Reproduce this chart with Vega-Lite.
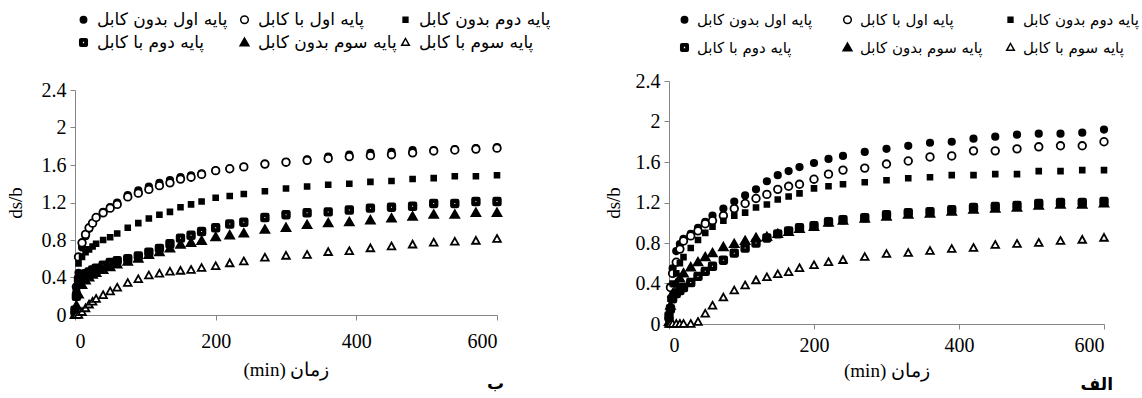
{
  "$schema": "https://vega.github.io/schema/vega-lite/v6.json",
  "background": "white",
  "padding": {"left": 6, "top": 11, "right": 0, "bottom": 0},
  "datasets": {
    "names": [
      {"k": "A", "name": "پایه اول بدون کابل"},
      {"k": "B", "name": "پایه اول با کابل"},
      {"k": "C", "name": "پایه دوم بدون کابل"},
      {"k": "D", "name": "پایه دوم با کابل"},
      {"k": "E", "name": "پایه سوم بدون کابل"},
      {"k": "F", "name": "پایه سوم با کابل"}
    ],
    "left": [
      {"k":"A","t":0,"v":0.05},{"k":"A","t":2,"v":0.25},{"k":"A","t":5,"v":0.45},{"k":"A","t":10,"v":0.72},{"k":"A","t":15,"v":0.84},{"k":"A","t":20,"v":0.92},{"k":"A","t":25,"v":0.98},{"k":"A","t":30,"v":1.04},{"k":"A","t":40,"v":1.10},{"k":"A","t":50,"v":1.15},{"k":"A","t":60,"v":1.20},{"k":"A","t":75,"v":1.28},{"k":"A","t":90,"v":1.33},{"k":"A","t":105,"v":1.37},{"k":"A","t":120,"v":1.41},{"k":"A","t":135,"v":1.44},{"k":"A","t":150,"v":1.47},{"k":"A","t":165,"v":1.49},{"k":"A","t":180,"v":1.51},{"k":"A","t":200,"v":1.54},{"k":"A","t":220,"v":1.56},{"k":"A","t":240,"v":1.58},{"k":"A","t":270,"v":1.61},{"k":"A","t":300,"v":1.63},{"k":"A","t":330,"v":1.66},{"k":"A","t":360,"v":1.69},{"k":"A","t":390,"v":1.71},{"k":"A","t":420,"v":1.73},{"k":"A","t":450,"v":1.74},{"k":"A","t":480,"v":1.76},{"k":"A","t":510,"v":1.76},{"k":"A","t":540,"v":1.77},{"k":"A","t":570,"v":1.78},{"k":"A","t":600,"v":1.79},
      {"k":"B","t":0,"v":0.02},{"k":"B","t":2,"v":0.30},{"k":"B","t":5,"v":0.62},{"k":"B","t":10,"v":0.77},{"k":"B","t":15,"v":0.86},{"k":"B","t":20,"v":0.93},{"k":"B","t":25,"v":0.98},{"k":"B","t":30,"v":1.04},{"k":"B","t":40,"v":1.09},{"k":"B","t":50,"v":1.14},{"k":"B","t":60,"v":1.18},{"k":"B","t":75,"v":1.26},{"k":"B","t":90,"v":1.30},{"k":"B","t":105,"v":1.34},{"k":"B","t":120,"v":1.38},{"k":"B","t":135,"v":1.41},{"k":"B","t":150,"v":1.45},{"k":"B","t":165,"v":1.47},{"k":"B","t":180,"v":1.50},{"k":"B","t":200,"v":1.54},{"k":"B","t":220,"v":1.56},{"k":"B","t":240,"v":1.58},{"k":"B","t":270,"v":1.61},{"k":"B","t":300,"v":1.63},{"k":"B","t":330,"v":1.65},{"k":"B","t":360,"v":1.67},{"k":"B","t":390,"v":1.69},{"k":"B","t":420,"v":1.70},{"k":"B","t":450,"v":1.71},{"k":"B","t":480,"v":1.73},{"k":"B","t":510,"v":1.75},{"k":"B","t":540,"v":1.76},{"k":"B","t":570,"v":1.77},{"k":"B","t":600,"v":1.78},
      {"k":"C","t":0,"v":0.05},{"k":"C","t":2,"v":0.30},{"k":"C","t":5,"v":0.55},{"k":"C","t":10,"v":0.62},{"k":"C","t":15,"v":0.67},{"k":"C","t":20,"v":0.70},{"k":"C","t":25,"v":0.73},{"k":"C","t":30,"v":0.76},{"k":"C","t":40,"v":0.80},{"k":"C","t":50,"v":0.83},{"k":"C","t":60,"v":0.87},{"k":"C","t":75,"v":0.93},{"k":"C","t":90,"v":0.98},{"k":"C","t":105,"v":1.03},{"k":"C","t":120,"v":1.07},{"k":"C","t":135,"v":1.10},{"k":"C","t":150,"v":1.15},{"k":"C","t":165,"v":1.18},{"k":"C","t":180,"v":1.21},{"k":"C","t":200,"v":1.25},{"k":"C","t":220,"v":1.27},{"k":"C","t":240,"v":1.29},{"k":"C","t":270,"v":1.32},{"k":"C","t":300,"v":1.35},{"k":"C","t":330,"v":1.37},{"k":"C","t":360,"v":1.39},{"k":"C","t":390,"v":1.40},{"k":"C","t":420,"v":1.42},{"k":"C","t":450,"v":1.43},{"k":"C","t":480,"v":1.45},{"k":"C","t":510,"v":1.46},{"k":"C","t":540,"v":1.48},{"k":"C","t":570,"v":1.48},{"k":"C","t":600,"v":1.49},
      {"k":"D","t":0,"v":0.05},{"k":"D","t":2,"v":0.20},{"k":"D","t":5,"v":0.38},{"k":"D","t":10,"v":0.42},{"k":"D","t":15,"v":0.44},{"k":"D","t":20,"v":0.46},{"k":"D","t":25,"v":0.48},{"k":"D","t":30,"v":0.50},{"k":"D","t":40,"v":0.53},{"k":"D","t":50,"v":0.56},{"k":"D","t":60,"v":0.58},{"k":"D","t":75,"v":0.60},{"k":"D","t":90,"v":0.63},{"k":"D","t":105,"v":0.67},{"k":"D","t":120,"v":0.71},{"k":"D","t":135,"v":0.76},{"k":"D","t":150,"v":0.82},{"k":"D","t":165,"v":0.85},{"k":"D","t":180,"v":0.89},{"k":"D","t":200,"v":0.93},{"k":"D","t":220,"v":0.97},{"k":"D","t":240,"v":0.99},{"k":"D","t":270,"v":1.04},{"k":"D","t":300,"v":1.07},{"k":"D","t":330,"v":1.09},{"k":"D","t":360,"v":1.10},{"k":"D","t":390,"v":1.12},{"k":"D","t":420,"v":1.14},{"k":"D","t":450,"v":1.15},{"k":"D","t":480,"v":1.16},{"k":"D","t":510,"v":1.19},{"k":"D","t":540,"v":1.19},{"k":"D","t":570,"v":1.21},{"k":"D","t":600,"v":1.21},
      {"k":"E","t":0,"v":0.00},{"k":"E","t":2,"v":0.10},{"k":"E","t":5,"v":0.22},{"k":"E","t":10,"v":0.32},{"k":"E","t":15,"v":0.37},{"k":"E","t":20,"v":0.40},{"k":"E","t":25,"v":0.43},{"k":"E","t":30,"v":0.45},{"k":"E","t":40,"v":0.48},{"k":"E","t":50,"v":0.51},{"k":"E","t":60,"v":0.54},{"k":"E","t":75,"v":0.57},{"k":"E","t":90,"v":0.60},{"k":"E","t":105,"v":0.64},{"k":"E","t":120,"v":0.67},{"k":"E","t":135,"v":0.71},{"k":"E","t":150,"v":0.75},{"k":"E","t":165,"v":0.77},{"k":"E","t":180,"v":0.79},{"k":"E","t":200,"v":0.83},{"k":"E","t":220,"v":0.85},{"k":"E","t":240,"v":0.87},{"k":"E","t":270,"v":0.91},{"k":"E","t":300,"v":0.93},{"k":"E","t":330,"v":0.96},{"k":"E","t":360,"v":0.98},{"k":"E","t":390,"v":0.99},{"k":"E","t":420,"v":1.01},{"k":"E","t":450,"v":1.03},{"k":"E","t":480,"v":1.05},{"k":"E","t":510,"v":1.07},{"k":"E","t":540,"v":1.07},{"k":"E","t":570,"v":1.09},{"k":"E","t":600,"v":1.09},
      {"k":"F","t":0,"v":0.00},{"k":"F","t":2,"v":0.00},{"k":"F","t":5,"v":0.00},{"k":"F","t":10,"v":0.03},{"k":"F","t":15,"v":0.07},{"k":"F","t":20,"v":0.11},{"k":"F","t":25,"v":0.14},{"k":"F","t":30,"v":0.17},{"k":"F","t":40,"v":0.21},{"k":"F","t":50,"v":0.25},{"k":"F","t":60,"v":0.29},{"k":"F","t":75,"v":0.34},{"k":"F","t":90,"v":0.38},{"k":"F","t":105,"v":0.42},{"k":"F","t":120,"v":0.44},{"k":"F","t":135,"v":0.46},{"k":"F","t":150,"v":0.47},{"k":"F","t":165,"v":0.48},{"k":"F","t":180,"v":0.50},{"k":"F","t":200,"v":0.52},{"k":"F","t":220,"v":0.55},{"k":"F","t":240,"v":0.57},{"k":"F","t":270,"v":0.61},{"k":"F","t":300,"v":0.63},{"k":"F","t":330,"v":0.64},{"k":"F","t":360,"v":0.67},{"k":"F","t":390,"v":0.68},{"k":"F","t":420,"v":0.71},{"k":"F","t":450,"v":0.73},{"k":"F","t":480,"v":0.75},{"k":"F","t":510,"v":0.77},{"k":"F","t":540,"v":0.78},{"k":"F","t":570,"v":0.79},{"k":"F","t":600,"v":0.81}
    ],
    "right": [
      {"k":"A","t":0,"v":0.07},{"k":"A","t":2,"v":0.37},{"k":"A","t":5,"v":0.55},{"k":"A","t":10,"v":0.72},{"k":"A","t":15,"v":0.79},{"k":"A","t":20,"v":0.84},{"k":"A","t":30,"v":0.89},{"k":"A","t":40,"v":0.95},{"k":"A","t":50,"v":1.01},{"k":"A","t":60,"v":1.07},{"k":"A","t":75,"v":1.14},{"k":"A","t":90,"v":1.21},{"k":"A","t":105,"v":1.27},{"k":"A","t":120,"v":1.33},{"k":"A","t":135,"v":1.41},{"k":"A","t":150,"v":1.47},{"k":"A","t":165,"v":1.51},{"k":"A","t":180,"v":1.55},{"k":"A","t":200,"v":1.59},{"k":"A","t":220,"v":1.63},{"k":"A","t":240,"v":1.66},{"k":"A","t":270,"v":1.70},{"k":"A","t":300,"v":1.73},{"k":"A","t":330,"v":1.76},{"k":"A","t":360,"v":1.79},{"k":"A","t":390,"v":1.80},{"k":"A","t":420,"v":1.83},{"k":"A","t":450,"v":1.85},{"k":"A","t":480,"v":1.87},{"k":"A","t":510,"v":1.88},{"k":"A","t":540,"v":1.88},{"k":"A","t":570,"v":1.89},{"k":"A","t":600,"v":1.92},
      {"k":"B","t":0,"v":0.05},{"k":"B","t":2,"v":0.36},{"k":"B","t":5,"v":0.50},{"k":"B","t":10,"v":0.61},{"k":"B","t":15,"v":0.74},{"k":"B","t":20,"v":0.82},{"k":"B","t":30,"v":0.87},{"k":"B","t":40,"v":0.92},{"k":"B","t":50,"v":0.99},{"k":"B","t":60,"v":1.02},{"k":"B","t":75,"v":1.07},{"k":"B","t":90,"v":1.14},{"k":"B","t":105,"v":1.19},{"k":"B","t":120,"v":1.24},{"k":"B","t":135,"v":1.28},{"k":"B","t":150,"v":1.33},{"k":"B","t":165,"v":1.36},{"k":"B","t":180,"v":1.38},{"k":"B","t":200,"v":1.43},{"k":"B","t":220,"v":1.48},{"k":"B","t":240,"v":1.52},{"k":"B","t":270,"v":1.54},{"k":"B","t":300,"v":1.58},{"k":"B","t":330,"v":1.61},{"k":"B","t":360,"v":1.65},{"k":"B","t":390,"v":1.66},{"k":"B","t":420,"v":1.71},{"k":"B","t":450,"v":1.71},{"k":"B","t":480,"v":1.73},{"k":"B","t":510,"v":1.75},{"k":"B","t":540,"v":1.76},{"k":"B","t":570,"v":1.76},{"k":"B","t":600,"v":1.80},
      {"k":"C","t":0,"v":0.05},{"k":"C","t":2,"v":0.25},{"k":"C","t":5,"v":0.40},{"k":"C","t":10,"v":0.50},{"k":"C","t":15,"v":0.60},{"k":"C","t":20,"v":0.66},{"k":"C","t":30,"v":0.75},{"k":"C","t":40,"v":0.83},{"k":"C","t":50,"v":0.90},{"k":"C","t":60,"v":0.96},{"k":"C","t":75,"v":1.02},{"k":"C","t":90,"v":1.07},{"k":"C","t":105,"v":1.10},{"k":"C","t":120,"v":1.15},{"k":"C","t":135,"v":1.18},{"k":"C","t":150,"v":1.23},{"k":"C","t":165,"v":1.26},{"k":"C","t":180,"v":1.29},{"k":"C","t":200,"v":1.34},{"k":"C","t":220,"v":1.36},{"k":"C","t":240,"v":1.38},{"k":"C","t":270,"v":1.40},{"k":"C","t":300,"v":1.42},{"k":"C","t":330,"v":1.44},{"k":"C","t":360,"v":1.45},{"k":"C","t":390,"v":1.47},{"k":"C","t":420,"v":1.47},{"k":"C","t":450,"v":1.48},{"k":"C","t":480,"v":1.48},{"k":"C","t":510,"v":1.51},{"k":"C","t":540,"v":1.51},{"k":"C","t":570,"v":1.52},{"k":"C","t":600,"v":1.52},
      {"k":"D","t":0,"v":0.08},{"k":"D","t":2,"v":0.15},{"k":"D","t":5,"v":0.25},{"k":"D","t":10,"v":0.30},{"k":"D","t":15,"v":0.33},{"k":"D","t":20,"v":0.36},{"k":"D","t":30,"v":0.41},{"k":"D","t":40,"v":0.47},{"k":"D","t":50,"v":0.52},{"k":"D","t":60,"v":0.57},{"k":"D","t":75,"v":0.63},{"k":"D","t":90,"v":0.70},{"k":"D","t":105,"v":0.75},{"k":"D","t":120,"v":0.80},{"k":"D","t":135,"v":0.85},{"k":"D","t":150,"v":0.89},{"k":"D","t":165,"v":0.92},{"k":"D","t":180,"v":0.95},{"k":"D","t":200,"v":0.97},{"k":"D","t":220,"v":1.01},{"k":"D","t":240,"v":1.03},{"k":"D","t":270,"v":1.05},{"k":"D","t":300,"v":1.08},{"k":"D","t":330,"v":1.10},{"k":"D","t":360,"v":1.11},{"k":"D","t":390,"v":1.13},{"k":"D","t":420,"v":1.15},{"k":"D","t":450,"v":1.16},{"k":"D","t":480,"v":1.17},{"k":"D","t":510,"v":1.19},{"k":"D","t":540,"v":1.20},{"k":"D","t":570,"v":1.20},{"k":"D","t":600,"v":1.21},
      {"k":"E","t":0,"v":0.02},{"k":"E","t":2,"v":0.18},{"k":"E","t":5,"v":0.30},{"k":"E","t":10,"v":0.40},{"k":"E","t":15,"v":0.45},{"k":"E","t":20,"v":0.50},{"k":"E","t":30,"v":0.56},{"k":"E","t":40,"v":0.61},{"k":"E","t":50,"v":0.66},{"k":"E","t":60,"v":0.70},{"k":"E","t":75,"v":0.76},{"k":"E","t":90,"v":0.79},{"k":"E","t":105,"v":0.82},{"k":"E","t":120,"v":0.85},{"k":"E","t":135,"v":0.86},{"k":"E","t":150,"v":0.89},{"k":"E","t":165,"v":0.91},{"k":"E","t":180,"v":0.94},{"k":"E","t":200,"v":0.96},{"k":"E","t":220,"v":1.00},{"k":"E","t":240,"v":1.02},{"k":"E","t":270,"v":1.04},{"k":"E","t":300,"v":1.06},{"k":"E","t":330,"v":1.08},{"k":"E","t":360,"v":1.09},{"k":"E","t":390,"v":1.11},{"k":"E","t":420,"v":1.13},{"k":"E","t":450,"v":1.14},{"k":"E","t":480,"v":1.15},{"k":"E","t":510,"v":1.17},{"k":"E","t":540,"v":1.18},{"k":"E","t":570,"v":1.18},{"k":"E","t":600,"v":1.19},
      {"k":"F","t":0,"v":0.00},{"k":"F","t":2,"v":0.00},{"k":"F","t":5,"v":0.00},{"k":"F","t":10,"v":0.00},{"k":"F","t":15,"v":0.00},{"k":"F","t":20,"v":0.00},{"k":"F","t":30,"v":0.00},{"k":"F","t":40,"v":0.02},{"k":"F","t":50,"v":0.10},{"k":"F","t":60,"v":0.18},{"k":"F","t":75,"v":0.26},{"k":"F","t":90,"v":0.33},{"k":"F","t":105,"v":0.38},{"k":"F","t":120,"v":0.43},{"k":"F","t":135,"v":0.46},{"k":"F","t":150,"v":0.49},{"k":"F","t":165,"v":0.51},{"k":"F","t":180,"v":0.55},{"k":"F","t":200,"v":0.58},{"k":"F","t":220,"v":0.61},{"k":"F","t":240,"v":0.63},{"k":"F","t":270,"v":0.66},{"k":"F","t":300,"v":0.69},{"k":"F","t":330,"v":0.70},{"k":"F","t":360,"v":0.72},{"k":"F","t":390,"v":0.74},{"k":"F","t":420,"v":0.75},{"k":"F","t":450,"v":0.78},{"k":"F","t":480,"v":0.79},{"k":"F","t":510,"v":0.80},{"k":"F","t":540,"v":0.82},{"k":"F","t":570,"v":0.83},{"k":"F","t":600,"v":0.85}
    ]
  },
  "bounds": "flush",
  "center": true,
  "spacing": 172,
  "resolve": {
    "scale": {"shape": "independent", "fill": "independent"},
    "legend": {"shape": "independent", "fill": "independent"}
  },
  "hconcat": [
    {
      "width": 422,
      "height": 225,
      "data": {"name": "left"},
      "transform": [{"lookup": "k", "from": {"data": {"name": "names"}, "key": "k", "fields": ["name"]}}],
      "title": {"text": "ب", "orient": "bottom", "anchor": "end", "frame": "group", "dx": 7, "font": "DejaVu Sans", "fontSize": 17, "fontWeight": "bold", "color": "black", "offset": -3},
      "mark": {"type": "point", "filled": true, "stroke": "black", "strokeWidth": 1.8, "size": 64, "opacity": 1},
      "encoding": {
        "x": {"field": "t", "type": "quantitative", "scale": {"domain": [0, 600], "nice": false}, "axis": {"values": [0, 200, 400, 600], "title": "(min) زمان", "labelPadding": 11, "titlePadding": 9}},
        "y": {"field": "v", "type": "quantitative", "scale": {"domain": [0, 2.4], "nice": false}, "axis": {"values": [0, 0.4, 0.8, 1.2, 1.6, 2, 2.4], "format": ".1~f", "title": "ds/b", "labelPadding": 4, "titlePadding": 16}},
        "shape": {"field": "name", "type": "nominal",
          "scale": {"domain": ["پایه اول بدون کابل", "پایه اول با کابل", "پایه دوم بدون کابل", "پایه دوم با کابل", "پایه سوم بدون کابل", "پایه سوم با کابل"],
            "range": ["M0.8,0A0.8,0.8,0,1,1,-0.8,0A0.8,0.8,0,1,1,0.8,0Z", "M0.95,0A0.95,0.95,0,1,1,-0.95,0A0.95,0.95,0,1,1,0.95,0Z", "M-0.6,-0.6L0.6,-0.6L0.6,0.6L-0.6,0.6Z", "M-0.95,-0.6Q-0.95,-0.95,-0.6,-0.95L0.6,-0.95Q0.95,-0.95,0.95,-0.6L0.95,0.6Q0.95,0.95,0.6,0.95L-0.6,0.95Q-0.95,0.95,-0.95,0.6ZM-0.35,-0.35L-0.35,0.35L0.35,0.35L0.35,-0.35Z", "M0,-1.1L1.1,0.8L-1.1,0.8Z", "M0,-1L0.95,0.7L-0.95,0.7Z"]},
          "legend": {"orient": "none", "legendX": 0, "legendY": -79, "title": null, "columns": 3, "direction": "horizontal", "gridAlign": "all", "columnPadding": -6, "rowPadding": 5, "labelFont": "DejaVu Sans", "labelFontSize": 17, "labelColor": "black", "labelLimit": 400, "symbolSize": 64, "labelOffset": 5, "padding": 0,
            "encode": {"symbols": {"update": {"stroke": {"value": "black"}, "strokeWidth": {"value": 1.8}}}}}},
        "fill": {"field": "name", "type": "nominal",
          "scale": {"domain": ["پایه اول بدون کابل", "پایه اول با کابل", "پایه دوم بدون کابل", "پایه دوم با کابل", "پایه سوم بدون کابل", "پایه سوم با کابل"],
            "range": ["black", "white", "black", "black", "black", "white"]},
          "legend": {"orient": "none", "legendX": 0, "legendY": -79, "title": null, "columns": 3, "direction": "horizontal", "gridAlign": "all", "columnPadding": -6, "rowPadding": 5, "labelFont": "DejaVu Sans", "labelFontSize": 17, "labelColor": "black", "labelLimit": 400, "symbolSize": 64, "labelOffset": 5, "padding": 0,
            "encode": {"symbols": {"update": {"stroke": {"value": "black"}, "strokeWidth": {"value": 1.8}}}}}}
      }
    },
    {
      "width": 435,
      "height": 243,
      "data": {"name": "right"},
      "transform": [{"lookup": "k", "from": {"data": {"name": "names"}, "key": "k", "fields": ["name"]}}],
      "title": {"text": "الف", "orient": "bottom", "anchor": "end", "frame": "group", "dx": 9, "font": "DejaVu Sans", "fontSize": 17, "fontWeight": "bold", "color": "black", "offset": -3},
      "mark": {"type": "point", "filled": true, "stroke": "black", "strokeWidth": 1.8, "size": 64, "opacity": 1},
      "encoding": {
        "x": {"field": "t", "type": "quantitative", "scale": {"domain": [0, 600], "nice": false}, "axis": {"values": [0, 200, 400, 600], "title": "(min) زمان", "labelPadding": 6, "titlePadding": 6}},
        "y": {"field": "v", "type": "quantitative", "scale": {"domain": [0, 2.4], "nice": false}, "axis": {"values": [0, 0.4, 0.8, 1.2, 1.6, 2, 2.4], "format": ".1~f", "title": "ds/b", "labelPadding": 4, "titlePadding": 12}},
        "shape": {"field": "name", "type": "nominal",
          "scale": {"domain": ["پایه اول بدون کابل", "پایه اول با کابل", "پایه دوم بدون کابل", "پایه دوم با کابل", "پایه سوم بدون کابل", "پایه سوم با کابل"],
            "range": ["M0.8,0A0.8,0.8,0,1,1,-0.8,0A0.8,0.8,0,1,1,0.8,0Z", "M0.95,0A0.95,0.95,0,1,1,-0.95,0A0.95,0.95,0,1,1,0.95,0Z", "M-0.6,-0.6L0.6,-0.6L0.6,0.6L-0.6,0.6Z", "M-0.95,-0.6Q-0.95,-0.95,-0.6,-0.95L0.6,-0.95Q0.95,-0.95,0.95,-0.6L0.95,0.6Q0.95,0.95,0.6,0.95L-0.6,0.95Q-0.95,0.95,-0.95,0.6ZM-0.35,-0.35L-0.35,0.35L0.35,0.35L0.35,-0.35Z", "M0,-1.1L1.1,0.8L-1.1,0.8Z", "M0,-1L0.95,0.7L-0.95,0.7Z"]},
          "legend": {"orient": "none", "legendX": 8, "legendY": -69, "title": null, "columns": 3, "direction": "horizontal", "gridAlign": "all", "columnPadding": 20, "rowPadding": 12, "labelFont": "DejaVu Sans", "labelFontSize": 15, "labelColor": "black", "labelLimit": 400, "symbolSize": 64, "labelOffset": 5, "padding": 0,
            "encode": {"symbols": {"update": {"stroke": {"value": "black"}, "strokeWidth": {"value": 1.8}}}}}},
        "fill": {"field": "name", "type": "nominal",
          "scale": {"domain": ["پایه اول بدون کابل", "پایه اول با کابل", "پایه دوم بدون کابل", "پایه دوم با کابل", "پایه سوم بدون کابل", "پایه سوم با کابل"],
            "range": ["black", "white", "black", "black", "black", "white"]},
          "legend": {"orient": "none", "legendX": 8, "legendY": -69, "title": null, "columns": 3, "direction": "horizontal", "gridAlign": "all", "columnPadding": 20, "rowPadding": 12, "labelFont": "DejaVu Sans", "labelFontSize": 15, "labelColor": "black", "labelLimit": 400, "symbolSize": 64, "labelOffset": 5, "padding": 0,
            "encode": {"symbols": {"update": {"stroke": {"value": "black"}, "strokeWidth": {"value": 1.8}}}}}}
      }
    }
  ],
  "config": {
    "view": {"stroke": null},
    "axis": {"grid": false, "domainColor": "#868686", "domainWidth": 1, "tickColor": "#868686", "tickSize": 5, "labelFont": "Liberation Serif", "labelFontSize": 20, "labelColor": "black", "titleFont": "Liberation Serif", "titleFontSize": 19, "titleFontWeight": "normal", "titleColor": "black"}
  }
}
